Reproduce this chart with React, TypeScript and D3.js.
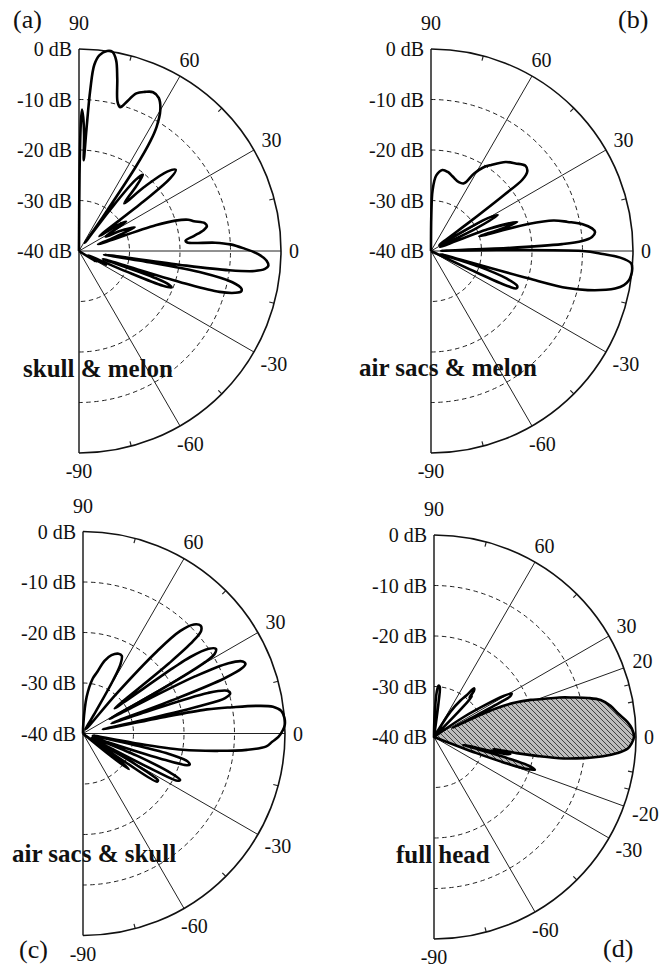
import React from 'react';
import * as d3 from 'd3';

// polar radiation patterns, [angle in degrees, level in dB]
const SKULL_MELON: [number, number][] = [
  [90, -40], [89.6, -25], [89.2, -15], [88.8, -12], [88.2, -13.5], [87.5, -17], [87, -22],
  [86.5, -16], [86, -8], [85.3, -3], [84, -1], [82, 0], [80.5, 0], [79, -1.5], [77.5, -5],
  [75.5, -9.5], [74, -10.4], [72.5, -9.2], [70, -6.8], [67.5, -5.9], [65, -5.3], [62.5, -5.8],
  [60, -7.8], [58, -11], [57, -14], [56, -20], [55, -32], [54, -38], [53, -30], [51.5, -22],
  [50, -20.3], [48.5, -23], [46.5, -27], [44.5, -22], [42, -16.5], [40, -15], [38.5, -17],
  [37.5, -24], [36, -35], [34, -31], [32, -29], [30, -33], [28, -34], [26, -31], [23, -28],
  [21, -33], [19.5, -36], [18.5, -24], [17.5, -20], [16, -17.5], [14.5, -16.5], [12.5, -14.5],
  [11, -14.2], [9.5, -15], [7.5, -17], [5.5, -18.8], [4.5, -18.5], [3.5, -13], [2.5, -10],
  [1, -7.5], [-1, -4.5], [-3, -2.8], [-4.5, -2.4], [-5.5, -3], [-6.5, -5], [-7.3, -10],
  [-7.8, -20], [-8.3, -35], [-9, -28], [-10, -15], [-11.5, -9], [-13, -7], [-14, -6.9],
  [-15, -8], [-16.2, -11], [-17, -18], [-17.5, -30], [-18.3, -35], [-19.5, -24], [-20.5, -21],
  [-21.5, -20.3], [-22.5, -22], [-23.5, -30], [-25, -38], [-27, -34], [-29, -38], [-32, -36],
  [-35, -40], [-90, -40],
];

const AIR_SACS_MELON: [number, number][] = [
  [90, -40], [89.5, -33], [88.5, -28], [86, -25], [82, -23.8], [78, -24], [74, -24.6],
  [68, -25.3], [64, -25.1], [61, -22.5], [58, -20.5], [55, -19.2], [50, -17], [46, -15.9],
  [42, -14.8], [39.5, -15.3], [38, -17], [37.5, -22], [37, -30], [35.5, -38], [33, -36],
  [30, -27], [28.2, -25], [26.5, -30], [24, -38], [21, -28], [18.6, -22], [17.5, -25],
  [17, -30], [15.5, -20], [14, -15], [12, -12.3], [10, -9.5], [8, -7.8], [6.6, -7.3], [5, -8],
  [3.8, -10], [3, -14], [2.2, -25], [1.6, -38], [1, -30], [0, -10], [-1, -6], [-2, -2.5],
  [-3.5, -0.3], [-5, 0], [-7, -0.1], [-8.5, -0.4], [-10, -1.2], [-11.5, -2.8], [-12.5, -4.5],
  [-14, -8], [-15.2, -12], [-15.7, -20], [-16.3, -34], [-17, -38], [-18, -30], [-20, -24],
  [-22, -21.6], [-23.5, -21.5], [-24.5, -23], [-25.2, -30], [-26, -40], [-90, -40],
];

const AIR_SACS_SKULL: [number, number][] = [
  [90, -40], [88, -38], [84.3, -32.7], [80, -29], [77, -27.5], [73.5, -25], [70, -23.5],
  [66, -22.7], [63.5, -22.8], [61.5, -24.5], [60.5, -28], [59.8, -35], [58.5, -39],
  [50, -30], [48, -18], [46.5, -12], [44.5, -9.2], [42.5, -8.4], [41, -9], [40, -11.5],
  [39.2, -18], [38.5, -32], [37.5, -30], [36, -18], [35.5, -14], [34, -10], [32.5, -8.8],
  [31.2, -9.5], [30.3, -12], [29.5, -20], [28.8, -34], [28, -30], [27, -15], [25.8, -8],
  [24.3, -5.3], [23.2, -5], [22.3, -6], [21.3, -10], [20.5, -20], [19.8, -34], [19, -28],
  [18, -14], [16.5, -10.2], [15.2, -9.8], [14, -11], [13.2, -16], [12.5, -28], [12, -36],
  [11.5, -25], [11, -15], [10, -10], [9, -5], [8, -2], [6.5, -0.5], [4.5, 0], [2.5, 0],
  [1, -0.4], [-1, -1.3], [-2.5, -2.5], [-4, -3.6], [-5.7, -7.4], [-7.3, -13], [-9.3, -20],
  [-10.5, -30], [-11.5, -38], [-12.5, -30], [-13.5, -22], [-15, -18.5], [-16.3, -18],
  [-17, -18.5], [-18, -24], [-19.5, -35], [-21, -38], [-22.5, -28], [-24.2, -21],
  [-25.5, -18.7], [-26.5, -19], [-27.3, -24], [-28, -34], [-29, -38], [-30.5, -28],
  [-32, -22.5], [-33, -22.5], [-34, -30], [-35, -38], [-36.5, -31], [-38, -28.5],
  [-39, -33], [-40, -40], [-90, -40],
];

const FULL_HEAD: [number, number][] = [
  [90, -40], [88.5, -36], [86.5, -31], [85, -29.8], [83.5, -30], [82.5, -33], [81.5, -40],
  [62, -40], [57, -34], [54, -31], [52, -29.5], [50.5, -27.5], [49, -28], [48, -29.5],
  [47, -29], [46, -32], [44, -40], [38, -40], [34, -33], [32, -28], [30.5, -24], [29.3, -22.4],
  [28.2, -22.8], [27.6, -25], [27, -32], [26.5, -36], [25.8, -31], [24.8, -26.5], [23, -22.5],
  [21, -19.5], [19.6, -17.7], [17.5, -14], [15.8, -11.3], [14.2, -8.5], [12.5, -6.2],
  [10, -4.5], [7.2, -3.2], [4.5, -1.6], [2.5, -0.8], [0, -0.4], [-2, -0.9], [-3.5, -1.6],
  [-5, -3.5], [-6.5, -6.3], [-8, -10], [-9.4, -14], [-10.4, -19], [-11, -23], [-11.5, -28],
  [-12, -25.5], [-12.6, -24.5], [-13.3, -25.5], [-14.2, -31], [-15, -34], [-16, -25],
  [-17, -20], [-18, -19], [-19, -20.5], [-20, -25], [-20.8, -31], [-21.5, -40], [-90, -40],
];

const DB_LEVELS = [0, -10, -20, -30, -40];
const DASHED_LEVELS = [-10, -20, -30];
const SPOKES = [60, 30, 0, -30, -60];
const SPOKES_D = [60, 30, 20, 0, -20, -30, -60];
const ANGLE_LABELS = [90, 60, 30, 0, -30, -60, -90];
const ANGLE_LABELS_D = [90, 60, 30, 20, 0, -20, -30, -60, -90];
const RIM_TICKS = [75, 45, 15, -15, -45, -75];
const RIM_TICKS_D = [75, 45, 15, 10, -10, -15, -45, -75];

const R = 202;
const FONT = "'Liberation Serif', 'Times New Roman', serif";

const rScale = d3.scaleLinear().domain([-40, 0]).range([0, R]);
const rad = (deg: number) => (deg * Math.PI) / 180;

const radial = d3
  .lineRadial<[number, number]>()
  .angle((d) => rad(90 - d[0]))
  .radius((d) => rScale(d[1]))
  .curve(d3.curveCatmullRom.alpha(0.5));

function halfArc(r: number) {
  const p = d3.path();
  p.arc(0, 0, r, -Math.PI / 2, Math.PI / 2);
  return p.toString();
}

function labelPos(a: number, text: string): [number, number] {
  if (a === 90) return [0, -(R + 26)];
  if (a === -90) return [0, R + 18];
  const w = text.replace('-', '').length * 10 + (text.startsWith('-') ? 6.7 : 0);
  const off = 8 + Math.abs(Math.cos(rad(a))) * w / 2 + Math.abs(Math.sin(rad(a))) * 7;
  const r = R + off;
  return [r * Math.cos(rad(a)), -r * Math.sin(rad(a))];
}

type PanelProps = {
  cx: number; cy: number; data: [number, number][]; title: string;
  tx: number; ty: number; letter: string; lx: number; ly: number;
  spokes: number[]; ticks: number[]; labels: number[]; hatched?: boolean;
};

function Panel(p: PanelProps) {
  const fillPts = p.hatched ? p.data.filter(([a]) => a <= 26.5 && a >= -21.5) : [];
  return (
    <g>
      <g transform={`translate(${p.cx},${p.cy})`}>
        {/* dashed level rings */}
        {DASHED_LEVELS.map((db) => (
          <path key={db} d={halfArc(rScale(db))} fill="none" stroke="#222" strokeWidth={1}
            strokeDasharray="4.5,3.5" />
        ))}
        {/* spokes */}
        {p.spokes.map((a) => (
          <line key={a} x1={0} y1={0} x2={R * Math.cos(rad(a))} y2={-R * Math.sin(rad(a))}
            stroke="#222" strokeWidth={1} />
        ))}
        {/* rim ticks */}
        {p.ticks.map((a) => (
          <line key={a} x1={(R - 5) * Math.cos(rad(a))} y1={-(R - 5) * Math.sin(rad(a))}
            x2={R * Math.cos(rad(a))} y2={-R * Math.sin(rad(a))} stroke="#222" strokeWidth={1.2} />
        ))}
        <path d={halfArc(R)} fill="none" stroke="#111" strokeWidth={1.6} />
        <line x1={0} y1={-R} x2={0} y2={R} stroke="#111" strokeWidth={1.4} />

        {p.hatched && (
          <path d={(radial(fillPts) ?? '') + 'Z'} fill="url(#hatch)" stroke="none" />
        )}
        <path d={radial(p.data) ?? ''} fill="none" stroke="#000" strokeWidth={2.6}
          strokeLinejoin="round" />

        {/* dB labels */}
        {DB_LEVELS.map((db) => (
          <text key={db} x={-7} y={-rScale(db)} textAnchor="end" dominantBaseline="central"
            fontSize={20} fontFamily={FONT} fill="#111">{`${db} dB`}</text>
        ))}
        {/* angle labels */}
        {p.labels.map((a) => {
          const t = String(a);
          const [x, y] = labelPos(a, t);
          return (
            <text key={a} x={x} y={y} textAnchor="middle" dominantBaseline="central"
              fontSize={20} fontFamily={FONT} fill="#111">{t}</text>
          );
        })}
      </g>
      <text x={p.tx} y={p.ty} fontSize={25} fontWeight="bold" fontFamily={FONT} fill="#111">
        {p.title}
      </text>
      <text x={p.lx} y={p.ly} fontSize={26} fontFamily={FONT} fill="#111">{p.letter}</text>
    </g>
  );
}

export default function App() {
  return (
    <svg width={669} height={969} style={{ position: 'absolute', left: 0, top: 0, background: '#fff' }}>
      <defs>
        <pattern id="hatch" patternUnits="userSpaceOnUse" width={5} height={5}>
          <rect width={5} height={5} fill="#bdbdbd" />
          <path d="M-1,-1 L6,6 M-1,4 L1,6 M4,-1 L6,1" stroke="#333" strokeWidth={0.9} />
        </pattern>
      </defs>
      <rect width={669} height={969} fill="#fff" />
      <Panel cx={79} cy={251} data={SKULL_MELON} title="skull & melon" tx={23} ty={377}
        letter="(a)" lx={13} ly={28} spokes={SPOKES} ticks={RIM_TICKS} labels={ANGLE_LABELS} />
      <Panel cx={431} cy={251} data={AIR_SACS_MELON} title="air sacs & melon" tx={359} ty={376}
        letter="(b)" lx={618} ly={28} spokes={SPOKES} ticks={RIM_TICKS} labels={ANGLE_LABELS} />
      <Panel cx={83} cy={733.5} data={AIR_SACS_SKULL} title="air sacs & skull" tx={12} ty={862}
        letter="(c)" lx={19} ly={958} spokes={SPOKES} ticks={RIM_TICKS} labels={ANGLE_LABELS} />
      <Panel cx={434} cy={737} data={FULL_HEAD} title="full head" tx={396} ty={863}
        letter="(d)" lx={603} ly={957} spokes={SPOKES_D} ticks={RIM_TICKS_D} labels={ANGLE_LABELS_D}
        hatched />
    </svg>
  );
}
